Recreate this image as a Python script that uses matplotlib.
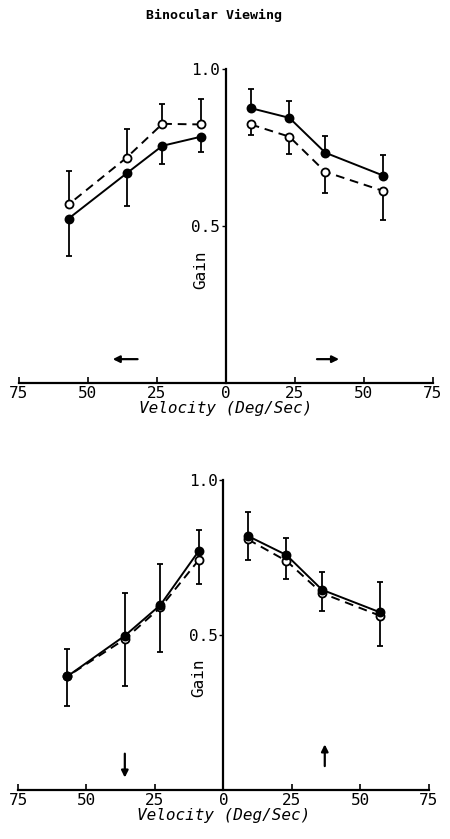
import matplotlib
matplotlib.use("Agg")
import matplotlib.pyplot as plt

plt.rcParams['font.family'] = ['DejaVu Sans Mono']

# velocities (deg/sec) of the test points, same on both sides of zero
vel = [9, 23, 36, 57]

# top panel: left (leftward motion) and right (rightward motion)
top_left_filled = [0.785, 0.756, 0.668, 0.524]
top_left_filled_err = [0.049, 0.058, 0.103, 0.120]   # drawn downward
top_left_open = [0.824, 0.826, 0.718, 0.569]
top_left_open_err = [0.080, 0.063, 0.090, 0.108]     # drawn upward
top_right_filled = [0.876, 0.845, 0.734, 0.661]
top_right_filled_err = [0.060, 0.055, 0.053, 0.066]  # upward
top_right_open = [0.824, 0.785, 0.673, 0.612]
top_right_open_err = [0.034, 0.055, 0.067, 0.093]    # downward

# bottom panel: left (downward motion) and right (upward motion)
bot_left_filled = [0.770, 0.596, 0.497, 0.366]
bot_left_filled_err = [0.069, 0.131, 0.138, 0.088]   # upward
bot_left_open = [0.741, 0.588, 0.486, 0.366]
bot_left_open_err = [0.078, 0.143, 0.152, 0.096]     # downward
bot_right_filled = [0.818, 0.757, 0.645, 0.573]
bot_right_filled_err = [0.079, 0.055, 0.058, 0.098]  # upward
bot_right_open = [0.807, 0.738, 0.634, 0.562]
bot_right_open_err = [0.067, 0.058, 0.058, 0.099]    # downward

xticks = [-75, -50, -25, 0, 25, 50, 75]
xticklabels = ['75', '50', '25', '0', '25', '50', '75']

# direction arrows: (x_start, y_start, x_end, y_end)
top_arrows = [(-32, 0.076, -41, 0.076), (33, 0.076, 41, 0.076)]
bot_arrows = [(-36, 0.117, -36, 0.040), (37, 0.077, 37, 0.147)]

fig = plt.figure(figsize=(4.5, 8.39), dpi=100)
ax1 = fig.add_axes([0.042, 0.5435, 0.92, 0.374])
ax2 = fig.add_axes([0.040, 0.0584, 0.913, 0.370])

fig.text(0.475, 0.981, 'Binocular Viewing', ha='center', va='center',
         fontsize=9.5, fontweight='bold')


def one_sided(ax, x, y, err, up, ls, face):
    lower = [0] * len(err) if up else err
    upper = err if up else [0] * len(err)
    ax.errorbar(x, y, yerr=[lower, upper], fmt='o', color='black',
                ecolor='black', elinewidth=1.3, capsize=2.5, capthick=1.3,
                markersize=5.8, markerfacecolor=face, markeredgecolor='black',
                markeredgewidth=1.3, zorder=3)
    ax.plot(x, y, color='black', linestyle=ls, linewidth=1.4, zorder=2)


def panel(ax, lf, lfe, lf_up, lo, loe, rf, rfe, ro, roe, arrows):
    neg = [-v for v in vel]
    one_sided(ax, neg, lo, loe, not lf_up, (0, (4.5, 3)), 'white')
    one_sided(ax, neg, lf, lfe, lf_up, '-', 'black')
    one_sided(ax, vel, ro, roe, False, (0, (4.5, 3)), 'white')
    one_sided(ax, vel, rf, rfe, True, '-', 'black')

    for x0, y0, x1, y1 in arrows:
        ax.annotate('', xy=(x1, y1), xytext=(x0, y0),
                    arrowprops=dict(arrowstyle='-|>', color='black', lw=1.6,
                                    mutation_scale=10, shrinkA=0, shrinkB=0))

    ax.set_xlim(-75, 75)
    ax.set_ylim(0, 1.0)
    ax.spines['top'].set_visible(False)
    ax.spines['right'].set_visible(False)
    ax.spines['left'].set_position(('data', 0))
    ax.spines['left'].set_linewidth(1.6)
    ax.spines['bottom'].set_linewidth(1.6)
    ax.set_xticks(xticks)
    ax.set_xticklabels(xticklabels)
    ax.set_yticks([0.5, 1.0])
    ax.set_yticklabels(['0.5', '1.0'])
    ax.tick_params(axis='x', direction='in', length=4, width=1.2,
                   labelsize=11.5, pad=2)
    ax.tick_params(axis='y', direction='out', length=3, width=1.0,
                   labelsize=11.5, pad=1)
    ax.set_xlabel('Velocity (Deg/Sec)', fontsize=11.5, style='oblique',
                  labelpad=0)
    ax.text(-9, 0.36, 'Gain', rotation=90, ha='center', va='center',
            fontsize=11.5)


panel(ax1, top_left_filled, top_left_filled_err, False, top_left_open,
      top_left_open_err, top_right_filled, top_right_filled_err,
      top_right_open, top_right_open_err, top_arrows)
panel(ax2, bot_left_filled, bot_left_filled_err, True, bot_left_open,
      bot_left_open_err, bot_right_filled, bot_right_filled_err,
      bot_right_open, bot_right_open_err, bot_arrows)

plt.savefig('out.png', dpi=100)
